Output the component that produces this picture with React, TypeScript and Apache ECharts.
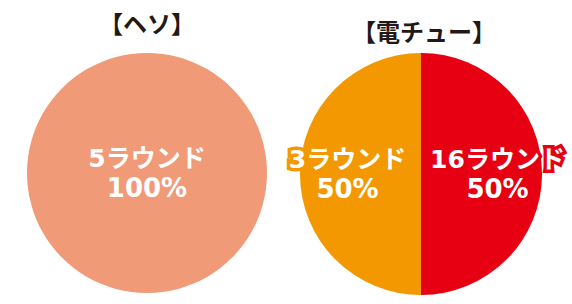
import React, { useEffect, useRef } from "react";
import * as echarts from "echarts";

// ヘソ (start chucker) round distribution
const hesoNames = ["5ラウンド"];
const hesoShares = [100];
const hesoColors = ["#F19A77"];

// 電チュー (electric chucker) round distribution, clockwise from the top
const denchuNames = ["16ラウンド", "3ラウンド"];
const denchuShares = [50, 50];
const denchuColors = ["#E60012", "#F39800"];

const titles = ["【ヘソ】", "【電チュー】"];

const LABEL_FONT = "'DejaVu Sans', 'Noto Sans CJK JP', sans-serif";
const TITLE_FONT = "'Noto Sans CJK JP', sans-serif";

function buildData(names: string[], values: number[], colors: string[]) {
  return names.map((name, i) => ({
    name,
    value: values[i],
    itemStyle: { color: colors[i] },
    label: { textBorderColor: colors[i] },
  }));
}

const labelStyle = {
  show: true,
  color: "#FFFFFF",
  fontFamily: LABEL_FONT,
  fontWeight: "bold" as const,
  fontSize: 25,
  lineHeight: 29,
  textBorderWidth: 7,
  align: "center" as const,
  formatter: (p: any) => `{n|${p.name}}\n{v|${p.value}%}`,
  rich: {
    n: { fontSize: 25, lineHeight: 29, fontWeight: "bold", fontFamily: LABEL_FONT },
    v: { fontSize: 26, lineHeight: 29, fontWeight: "bold", fontFamily: LABEL_FONT },
  },
};

export default function App() {
  const ref = useRef<HTMLDivElement>(null);

  useEffect(() => {
    document.body.style.margin = "0";
    if (!ref.current) return;
    const chart = echarts.init(ref.current, null, { renderer: "svg" });
    chart.setOption({
      animation: false,
      backgroundColor: "#FFFFFF",
      graphic: [
        {
          type: "text",
          x: 147,
          y: 22,
          style: {
            text: titles[0],
            fill: "#231815",
            font: `bold 24px ${TITLE_FONT}`,
            textAlign: "center",
            textVerticalAlign: "middle",
          },
        },
        {
          type: "text",
          x: 424,
          y: 30,
          style: {
            text: titles[1],
            fill: "#231815",
            font: `bold 24px ${TITLE_FONT}`,
            textAlign: "center",
            textVerticalAlign: "middle",
          },
        },
      ],
      series: [
        {
          type: "pie",
          center: [147, 173],
          radius: 120,
          startAngle: 90,
          silent: true,
          itemStyle: { borderWidth: 0 },
          label: { ...labelStyle, position: "center" },
          labelLine: { show: false },
          data: buildData(hesoNames, hesoShares, hesoColors),
        },
        {
          type: "pie",
          center: [421, 174],
          radius: 121,
          startAngle: 90,
          clockwise: true,
          silent: true,
          itemStyle: { borderWidth: 0 },
          label: { ...labelStyle, position: "inside" },
          labelLine: { show: false },
          labelLayout: (p: any) => ({ dx: p.dataIndex === 0 ? 13 : -10 }),
          data: buildData(denchuNames, denchuShares, denchuColors),
        },
      ],
    });
    return () => chart.dispose();
  }, []);

  return <div ref={ref} style={{ width: 572, height: 304 }} />;
}
